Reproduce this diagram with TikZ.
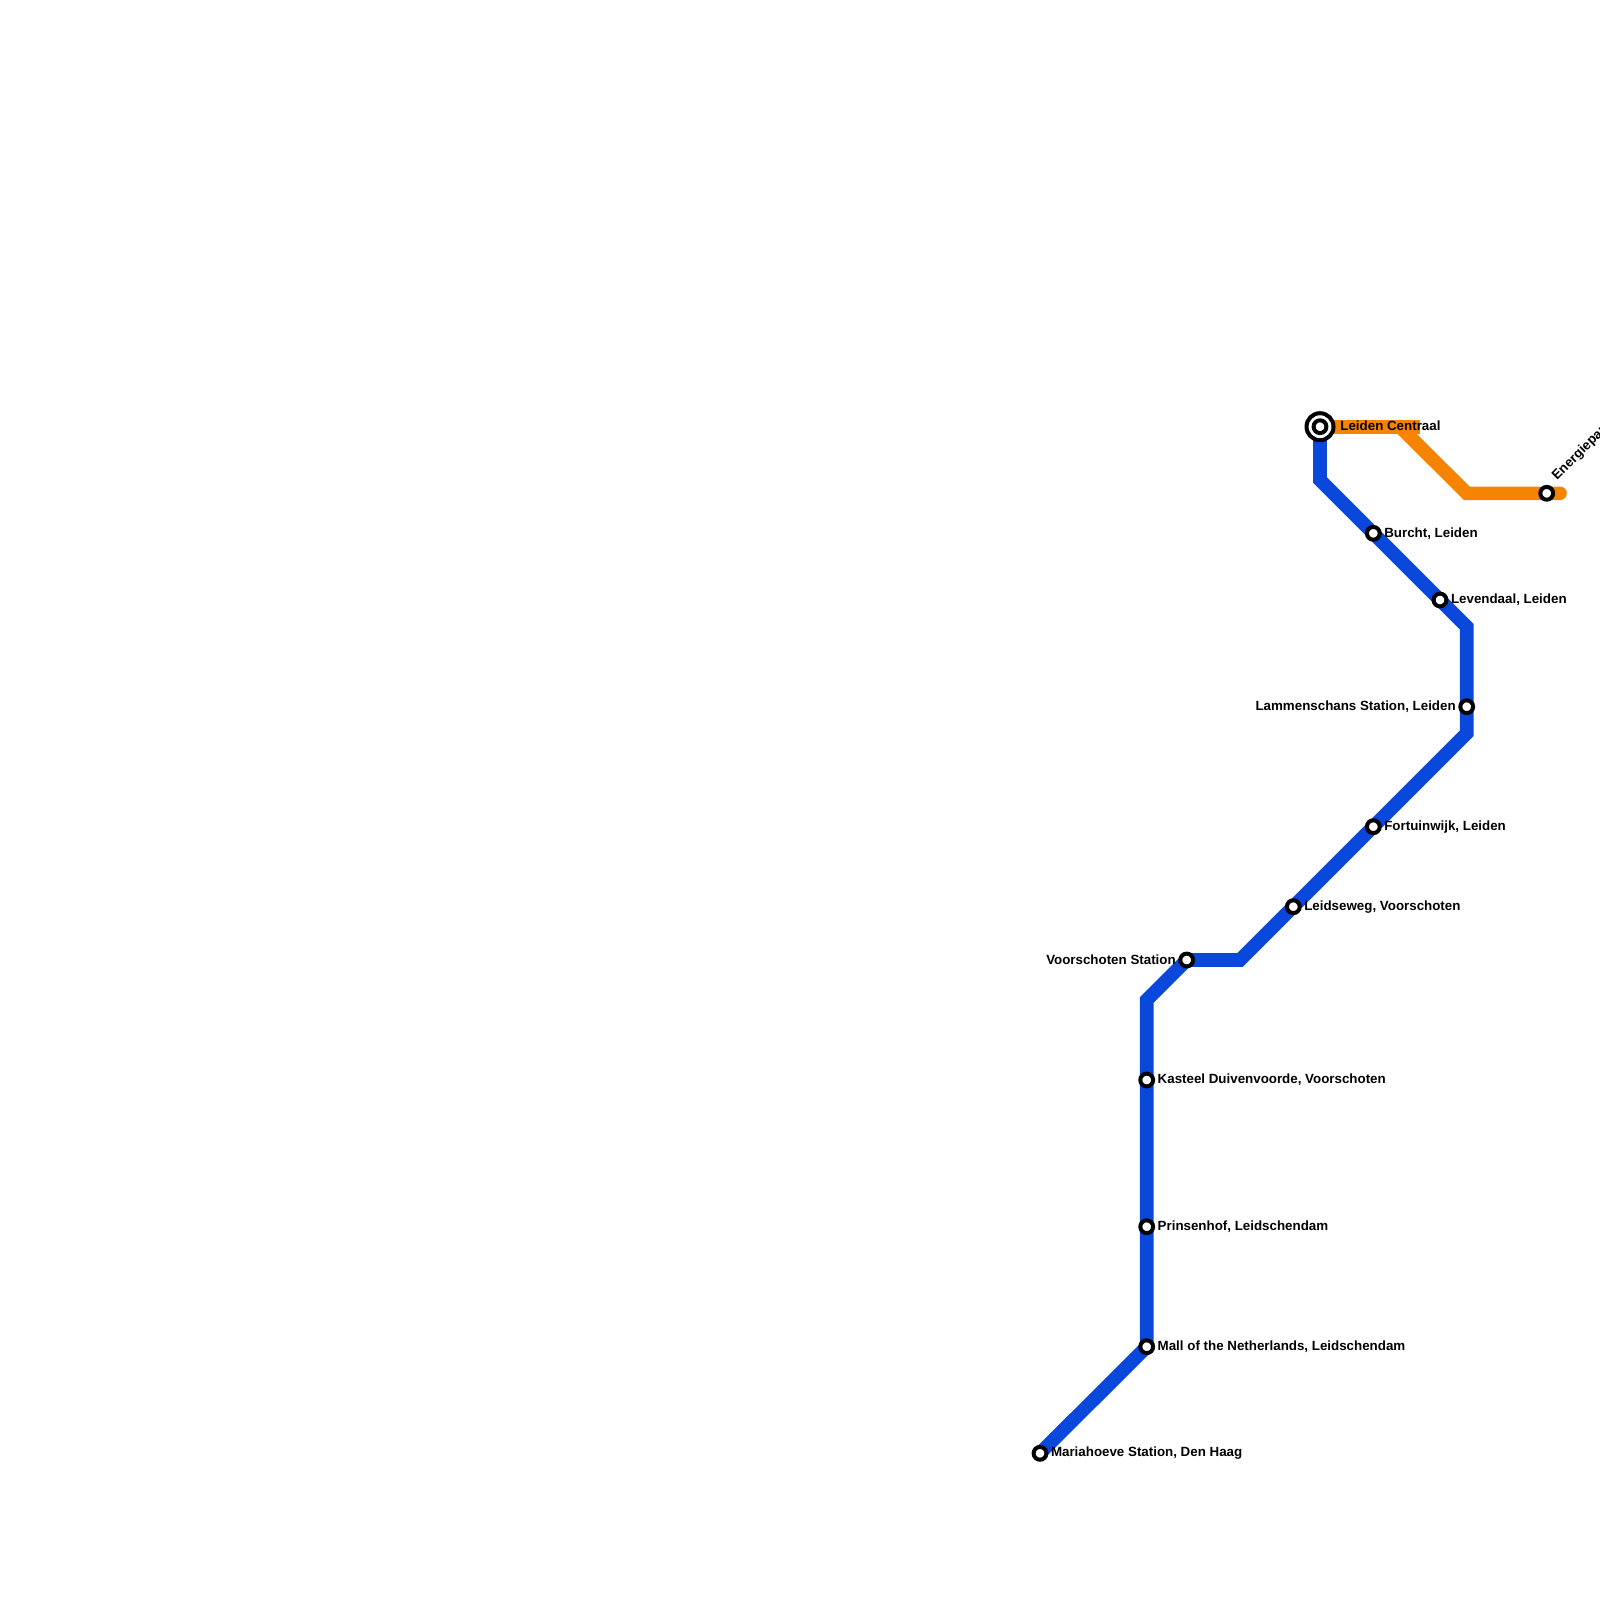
\documentclass[tikz,border=0pt]{standalone}
\usepackage{fontspec}
\setmainfont{Liberation Sans}
\usetikzlibrary{positioning}
\definecolor{lineblue}{HTML}{0A47DB}
\definecolor{lineorange}{HTML}{F78400}
\tikzset{
  stop/.style={circle,draw=black,fill=white,line width=2pt,inner sep=0pt,minimum size=6.4pt},
  hubring/.style={circle,draw=black,fill=white,line width=2pt,inner sep=0pt,minimum size=13.5pt},
  stoplabel/.style={font=\fontsize{6.67}{7}\bfseries,inner sep=0pt,text=black},
  blueline/.style={draw=lineblue,line width=6.8pt,line join=miter},
  orangeline/.style={draw=lineorange,line width=6.8pt,line join=miter}
}
\begin{document}
\begin{tikzpicture}[x=0.5pt,y=-0.5pt,node distance=0pt and 1.1pt]
\useasboundingbox (0,0) rectangle (1600,1600);
% bends
\coordinate (b1) at (1146.7,1000);
\coordinate (b2) at (1240,960);
\coordinate (b3) at (1466.7,733.3);
\coordinate (b4) at (1466.7,626.7);
\coordinate (b5) at (1320,480);
\coordinate (o1) at (1419.8,426.7);
\coordinate (o2) at (1400,426.7);
\coordinate (o3) at (1466.7,493.3);
\coordinate (o4) at (1560,493.3);
\coordinate (c0) at (1320,426.7);
\coordinate (e0) at (1546.7,493.3);
% lines
\draw[orangeline] (c0) -- (o1);
\draw[orangeline,line cap=round] (o2) -- (o3) -- (e0) -- (o4);
\draw[blueline] (1040,1453.3) coordinate (m0) -- (1146.7,1346.7) coordinate (m1)
  -- (1146.7,1226.7) coordinate (m2) -- (1146.7,1080) coordinate (m3)
  -- (b1) -- (1186.7,960) coordinate (m4) -- (b2)
  -- (1293.3,906.7) coordinate (m5) -- (1373.3,826.7) coordinate (m6)
  -- (b3) -- (1466.7,706.7) coordinate (m7) -- (b4)
  -- (1440,600) coordinate (m8) -- (1373.3,533.3) coordinate (m9)
  -- (b5) -- (c0);
% stations
\node[hubring] (hub) at (c0) {};
\node[stop] (leiden) at (c0) {};
\node[stop] (energie) at (e0) {};
\node[stop] (burcht) at (m9) {};
\node[stop] (levendaal) at (m8) {};
\node[stop] (lammen) at (m7) {};
\node[stop] (fortuin) at (m6) {};
\node[stop] (leidseweg) at (m5) {};
\node[stop] (voorschoten) at (m4) {};
\node[stop] (kasteel) at (m3) {};
\node[stop] (prinsenhof) at (m2) {};
\node[stop] (mall) at (m1) {};
\node[stop] (mariahoeve) at (m0) {};
% labels
\node[stoplabel,right=of leiden,xshift=4.7pt,yshift=0.4pt] (lleiden) {Leiden Centraal};
\node[stoplabel,right=of burcht] (lburcht) {Burcht, Leiden};
\node[stoplabel,right=of levendaal] (llevendaal) {Levendaal, Leiden};
\node[stoplabel,left=of lammen] (llammen) {Lammenschans Station, Leiden};
\node[stoplabel,right=of fortuin] (lfortuin) {Fortuinwijk, Leiden};
\node[stoplabel,right=of leidseweg] (lleidseweg) {Leidseweg, Voorschoten};
\node[stoplabel,left=of voorschoten] (lvoorschoten) {Voorschoten Station};
\node[stoplabel,right=of kasteel] (lkasteel) {Kasteel Duivenvoorde, Voorschoten};
\node[stoplabel,right=of prinsenhof] (lprinsenhof) {Prinsenhof, Leidschendam};
\node[stoplabel,right=of mall] (lmall) {Mall of the Netherlands, Leidschendam};
\node[stoplabel,right=of mariahoeve] (lmariahoeve) {Mariahoeve Station, Den Haag};
\node[stoplabel,anchor=west,rotate=45,xshift=8pt,yshift=2.5pt] (lenergie) at (energie) {Energiepark};
\end{tikzpicture}
\end{document}
